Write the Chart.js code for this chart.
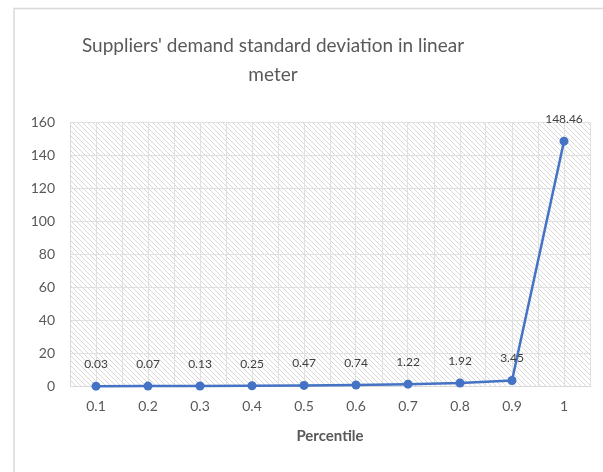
<!DOCTYPE html>
<html>
<head>
<meta charset="utf-8">
<script src="https://cdn.jsdelivr.net/npm/chart.js@4"></script>
<style>
  html, body { margin: 0; padding: 0; background: #fff; }
  #wrap { width: 603px; height: 472px; position: relative; }
</style>
</head>
<body>
<div id="wrap"><canvas id="c" width="603" height="472"></canvas></div>
<script>
const categories = ['0.1', '0.2', '0.3', '0.4', '0.5', '0.6', '0.7', '0.8', '0.9', '1'];
const values = [0.03, 0.07, 0.13, 0.25, 0.47, 0.74, 1.22, 1.92, 3.45, 148.46];
const valueLabels = ['0.03', '0.07', '0.13', '0.25', '0.47', '0.74', '1.22', '1.92', '3.45', '148.46'];
const titleLines = ["Suppliers' demand standard deviation in linear", 'meter'];
const xTitle = 'Percentile';

const FONT = 'Lato, "Open Sans", sans-serif';
Chart.defaults.font.family = FONT;
Chart.defaults.color = '#595959';

function makeHatch() {
  const t = document.createElement('canvas');
  t.width = 5; t.height = 5;
  const g = t.getContext('2d');
  g.fillStyle = '#ffffff';
  g.fillRect(0, 0, 5, 5);
  g.fillStyle = '#d9d9d9';
  for (let i = 0; i < 5; i++) g.fillRect(i, i, 1, 1);
  return t;
}

const framePlugin = {
  id: 'frame',
  beforeDraw(chart) {
    const ctx = chart.ctx;
    ctx.save();
    ctx.fillStyle = '#ffffff';
    ctx.fillRect(0, 0, chart.width, chart.height);
    ctx.strokeStyle = '#d9d9d9';
    ctx.lineWidth = 1.5;
    ctx.beginPath();
    ctx.moveTo(14, chart.height);
    ctx.lineTo(14, 8.5);
    ctx.lineTo(chart.width, 8.5);
    ctx.stroke();
    const a = chart.chartArea;
    ctx.fillStyle = ctx.createPattern(makeHatch(), 'repeat');
    ctx.fillRect(a.left, a.top, a.right - a.left, a.bottom - a.top);
    ctx.restore();
  },
  afterLayout(chart) {
    if (chart.titleBlock) {
      chart.titleBlock.left = 14;
      chart.titleBlock.right = 532;
    }
  }
};

const labelPlugin = {
  id: 'valueLabels',
  afterDatasetsDraw(chart) {
    const ctx = chart.ctx;
    const meta = chart.getDatasetMeta(0);
    ctx.save();
    ctx.font = '12px ' + FONT;
    ctx.fillStyle = '#404040';
    ctx.textAlign = 'center';
    ctx.textBaseline = 'middle';
    meta.data.forEach((pt, i) => {
      ctx.fillText(valueLabels[i], pt.x, pt.y - 22);
    });
    ctx.restore();
  }
};

new Chart(document.getElementById('c'), {
  type: 'line',
  data: {
    datasets: [{
      data: categories.map((c, i) => ({ x: parseFloat(c), y: values[i] })),
      borderColor: '#4472C4',
      backgroundColor: '#4472C4',
      borderWidth: 2.5,
      pointRadius: 4.5,
      pointHoverRadius: 4.5,
      pointBackgroundColor: '#4472C4',
      pointBorderWidth: 0,
      tension: 0,
      clip: false
    }]
  },
  options: {
    responsive: false,
    animation: false,
    layout: { padding: { left: 14, right: 13, top: 0, bottom: 27 } },
    plugins: {
      legend: { display: false },
      tooltip: { enabled: false },
      title: {
        display: true,
        text: titleLines,
        color: '#595959',
        font: { size: 19, weight: 'normal', lineHeight: 1.53 },
        padding: { top: 31, bottom: 33 }
      }
    },
    scales: {
      x: {
        type: 'linear',
        min: 0.05,
        max: 1.05,
        grid: { color: '#e0e0e0', lineWidth: 1, drawTicks: false },
        border: { display: true, color: '#d9d9d9', width: 1 },
        ticks: {
          stepSize: 0.05,
          autoSkip: false,
          maxRotation: 0,
          padding: 12,
          color: '#595959',
          font: { size: 14 },
          callback: function (v) {
            const k = Math.round(v * 20);
            return (k % 2 === 0 && k >= 2 && k <= 20) ? categories[k / 2 - 1] : '';
          }
        },
        title: {
          display: true,
          text: xTitle,
          color: '#595959',
          font: { size: 15, weight: 'bold' },
          padding: { top: 0, bottom: 0 }
        }
      },
      y: {
        min: 0,
        max: 160,
        afterFit(s) { s.width = 56; },
        grid: { color: '#e0e0e0', lineWidth: 1, drawTicks: false },
        border: { display: true, color: '#d9d9d9', width: 1 },
        ticks: {
          stepSize: 20,
          padding: 15,
          color: '#595959',
          font: { size: 14 }
        }
      }
    }
  },
  plugins: [framePlugin, labelPlugin]
});
</script>
</body>
</html>
